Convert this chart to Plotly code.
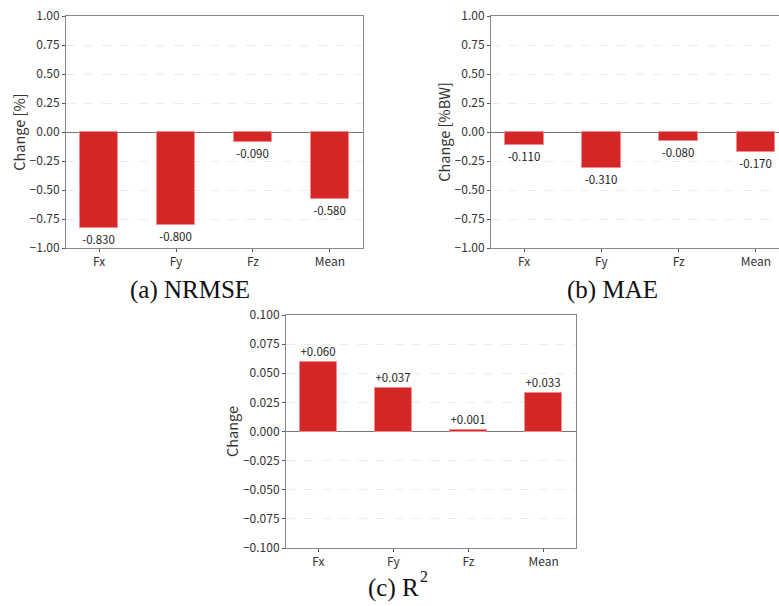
import plotly.graph_objects as go

categories = ["Fx", "Fy", "Fz", "Mean"]
nrmse_change = [-0.830, -0.800, -0.090, -0.580]
mae_change = [-0.110, -0.310, -0.080, -0.170]
r2_change = [0.060, 0.037, 0.001, 0.033]

nrmse_ticks = [-1.00, -0.75, -0.50, -0.25, 0.00, 0.25, 0.50, 0.75, 1.00]
r2_ticks = [-0.100, -0.075, -0.050, -0.025, 0.000, 0.025, 0.050, 0.075, 0.100]

W, H = 779, 606
BAR = "#d62728"
EDGE = "#f08c8c"
FONT = "Noto Sans CJK JP, Noto Sans, sans-serif"
SERIF = "Liberation Serif, Times New Roman, serif"

def dom_x(a, b):
    return [a / W, b / W]

def dom_y(top, bottom):
    return [1 - bottom / H, 1 - top / H]

fig = go.Figure()

panels = [
    ("x", "y", nrmse_change, dom_x(66, 363), dom_y(16, 248), [-0.43, 3.43], [-1, 1], nrmse_ticks, ".2f", "Change [%]", True),
    ("x2", "y2", mae_change, dom_x(491, 779), dom_y(16, 248), [-0.43, 3.30], [-1, 1], nrmse_ticks, ".2f", "Change [%BW]", False),
    ("x3", "y3", r2_change, dom_x(286, 576), dom_y(315, 548), [-0.43, 3.43], [-0.1, 0.1], r2_ticks, ".3f", "Change", True),
]

for i, (xa, ya, vals, dx, dy, xr, yr, ticks, tfmt, ytitle, ymirror) in enumerate(panels):
    texts = ["{:+.3f}".format(v) if v > 0 else "{:.3f}".format(v) for v in vals]
    fig.add_trace(go.Bar(
        x=categories, y=vals, xaxis=xa, yaxis=ya, width=0.5,
        marker=dict(color=BAR, line=dict(color=EDGE, width=1)),
        text=texts, textposition="outside", cliponaxis=False,
        textfont=dict(family=FONT, size=11.5, color="#222222"),
        showlegend=False,
    ))
    sfx = "" if i == 0 else str(i + 1)
    fig.layout["xaxis" + sfx] = dict(
        domain=dx, anchor=ya, range=xr, showline=True, mirror=True,
        linecolor="#888888", linewidth=1, ticks="outside", ticklen=3,
        tickcolor="#555555", tickfont=dict(family=FONT, size=12, color="#333333"),
        showgrid=False, zeroline=False, automargin=False, ticklabeloverflow="allow",
    )
    fig.layout["yaxis" + sfx] = dict(
        domain=dy, anchor=xa, range=yr, tickvals=ticks, tickformat=tfmt,
        showline=True, mirror=ymirror, linecolor="#888888", linewidth=1,
        ticks="outside", ticklen=3, tickcolor="#555555",
        tickfont=dict(family=FONT, size=12, color="#333333"),
        showgrid=True, gridcolor="#ebebeb", griddash="dash", gridwidth=1,
        zeroline=True, zerolinecolor="#777777", zerolinewidth=1, automargin=False,
        ticklabeloverflow="allow",
        title=dict(text=ytitle, font=dict(family=FONT, size=14.5, color="#333333"), standoff=0),
    )

captions = [
    ("(a) NRMSE", 190, 290, 25),
    ("(b) MAE", 612, 290, 25),
    ("(c) R", 394, 588, 25),
    ("2", 424, 576, 16),
]
for txt, cx, cy, fs in captions:
    fig.add_annotation(
        text=txt, x=cx / W, y=1 - cy / H, xref="paper", yref="paper",
        showarrow=False, xanchor="center", yanchor="middle",
        font=dict(family=SERIF, size=fs, color="#111111"),
    )

fig.update_layout(
    width=W, height=H, margin=dict(l=0, r=0, t=0, b=0),
    paper_bgcolor="white", plot_bgcolor="white", bargap=0,
)

fig.write_html(
    "out.html",
    config={"displayModeBar": False},
    post_script="document.body.style.margin='0';document.body.style.overflow='hidden';",
)
